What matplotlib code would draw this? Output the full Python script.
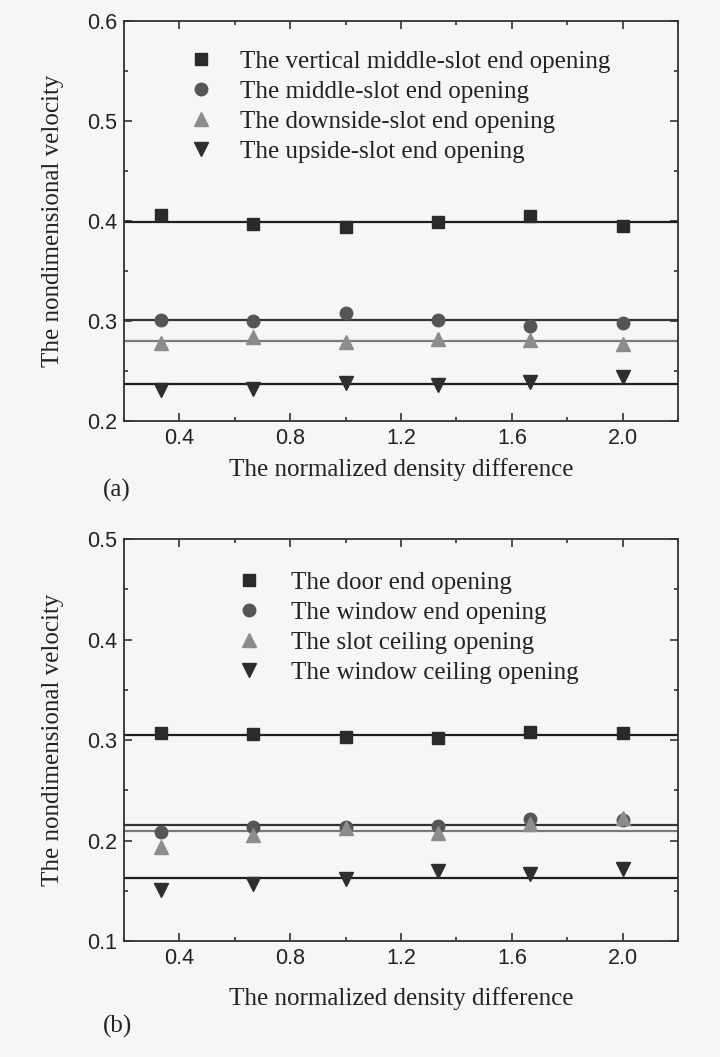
import numpy as np
import matplotlib
matplotlib.use("Agg")
import matplotlib.pyplot as plt
from matplotlib.ticker import MultipleLocator, FormatStrFormatter

# x positions (normalized density difference), same for both panels
density = [0.333, 0.667, 1.0, 1.333, 1.667, 2.0]

# panel (a)
labels_a = ["The vertical middle-slot end opening",
            "The middle-slot end opening",
            "The downside-slot end opening",
            "The upside-slot end opening"]
vert_mid_slot = [0.406, 0.397, 0.394, 0.399, 0.405, 0.395]
mid_slot = [0.301, 0.300, 0.308, 0.301, 0.295, 0.298]
down_slot = [0.278, 0.284, 0.279, 0.282, 0.281, 0.277]
up_slot = [0.231, 0.232, 0.238, 0.236, 0.239, 0.244]

# panel (b)
labels_b = ["The door end opening",
            "The window end opening",
            "The slot ceiling opening",
            "The window ceiling opening"]
door_end = [0.307, 0.306, 0.303, 0.302, 0.308, 0.307]
window_end = [0.209, 0.213, 0.213, 0.214, 0.221, 0.220]
slot_ceiling = [0.194, 0.206, 0.212, 0.208, 0.216, 0.222]
window_ceiling = [0.151, 0.157, 0.162, 0.170, 0.167, 0.172]

# marker / colour styles per series
markers = ["s", "o", "^", "v"]
msizes = [8.5, 9, 10, 10]
mcolors = ["#2a2a2a", "#555555", "#8c8c8c", "#2e2e2e"]
lcolors = ["#1e1e1e", "#333333", "#7a7a7a", "#1e1e1e"]

BG = "#f6f6f6"
TXT = "#222222"
SERIF = "Liberation Serif"
SANS = "Liberation Sans"
FS = 18


def draw_panel(ax, series, labels, ylim, legend_anchor, text_pad, xlab_y):
    ax.set_facecolor(BG)
    for vals, lab, m, ms, mc, lc in zip(series, labels, markers, msizes, mcolors, lcolors):
        ax.plot(density, vals, linestyle="none", marker=m, markersize=ms,
                color=mc, markeredgecolor=mc, label=lab, zorder=3)
        # horizontal line at series mean
        ax.axhline(np.mean(vals), color=lc, lw=1.6, zorder=2)

    ax.set_xlim(0.2, 2.2)
    ax.set_ylim(*ylim)
    ax.xaxis.set_major_locator(MultipleLocator(0.4))
    ax.xaxis.set_minor_locator(MultipleLocator(0.2))
    ax.yaxis.set_major_locator(MultipleLocator(0.1))
    ax.yaxis.set_minor_locator(MultipleLocator(0.05))
    ax.xaxis.set_major_formatter(FormatStrFormatter("%.1f"))
    ax.yaxis.set_major_formatter(FormatStrFormatter("%.1f"))
    ax.tick_params(which="both", direction="in", top=True, right=True,
                   colors=TXT, width=1.1)
    ax.tick_params(which="major", length=6, labelsize=15.5, pad=5)
    ax.tick_params(which="minor", length=3)
    for t in ax.get_xticklabels() + ax.get_yticklabels():
        t.set_fontfamily(SANS)
    for sp in ax.spines.values():
        sp.set_linewidth(1.3)
        sp.set_color("#333333")

    ax.set_xlabel("The normalized density difference", fontsize=FS,
                  fontfamily=SERIF, color=TXT, va="center")
    ax.xaxis.set_label_coords(0.5, xlab_y)
    ax.set_ylabel("The nondimensional velocity", fontsize=FS,
                  fontfamily=SERIF, color=TXT, va="center")
    ax.yaxis.set_label_coords(-0.128, 0.5)

    ax.legend(loc="upper left", bbox_to_anchor=legend_anchor, frameon=False,
              numpoints=1, handlelength=1.0, handletextpad=text_pad,
              labelspacing=0.3, borderpad=0, borderaxespad=0,
              prop={"family": SERIF, "size": FS}, labelcolor=TXT)


fig = plt.figure(figsize=(7.2, 10.57), dpi=100, facecolor=BG)
ax_a = fig.add_axes([0.1722, 0.6017, 0.7697, 0.3787])
ax_b = fig.add_axes([0.1722, 0.1097, 0.7697, 0.3803])

draw_panel(ax_a, [vert_mid_slot, mid_slot, down_slot, up_slot], labels_a,
           (0.2, 0.6), (0.117, 0.925), 1.06, -0.1224)
draw_panel(ax_b, [door_end, window_end, slot_ceiling, window_ceiling], labels_b,
           (0.1, 0.5), (0.2036, 0.92), 1.17, -0.1418)

fig.text(116.7 / 720, 1 - 490 / 1057, "(a)", fontsize=FS, fontfamily=SERIF,
         color=TXT, ha="center", va="center")
fig.text(118 / 720, 1 - 1026 / 1057, "(b)", fontsize=FS, fontfamily=SERIF,
         color=TXT, ha="center", va="center")

fig.savefig("out.png", dpi=100, facecolor=BG)
